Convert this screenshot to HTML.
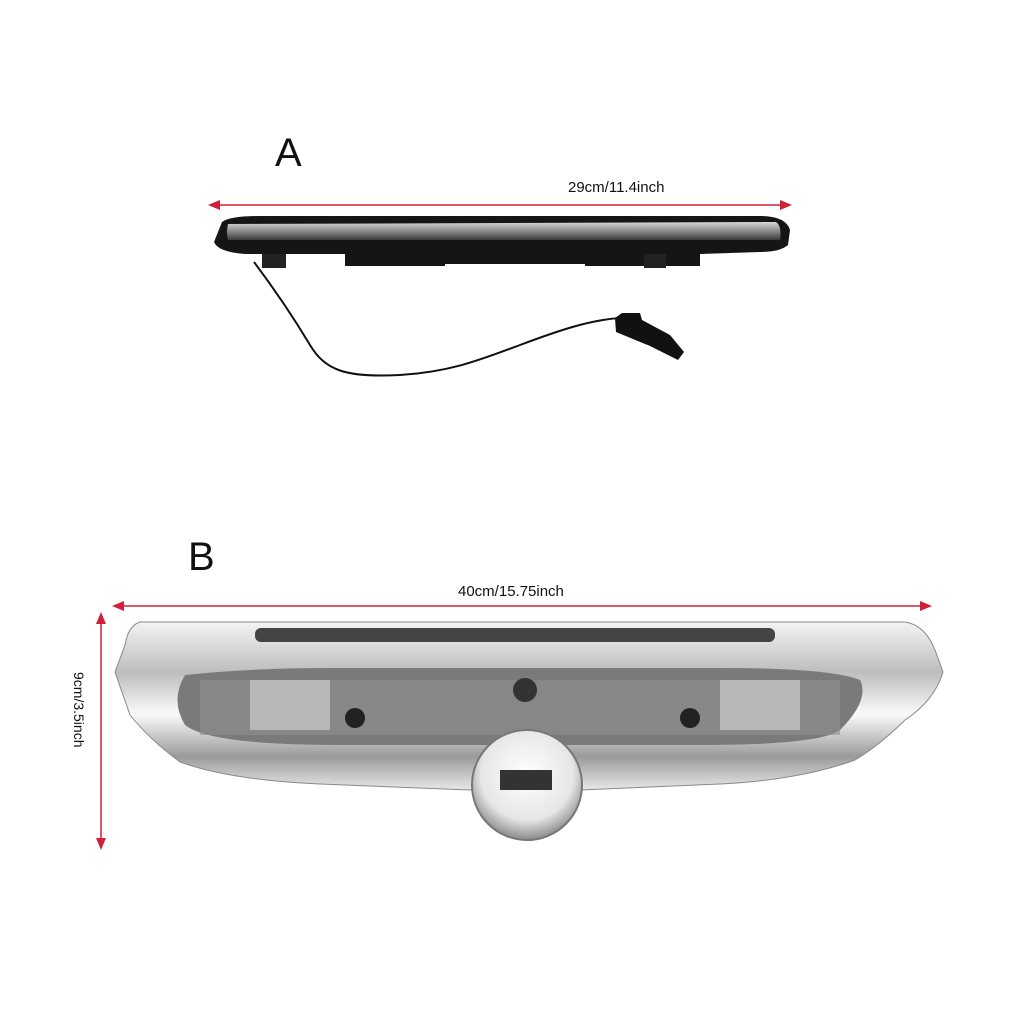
<!DOCTYPE html>
<html><head><meta charset="utf-8"><style>
html,body{margin:0;padding:0;background:#fff;}
svg{display:block;}
text{font-family:"Liberation Sans","DejaVu Sans",sans-serif;fill:#111;}
</style></head><body>
<svg width="1024" height="1024" viewBox="0 0 1024 1024">
<defs>
<linearGradient id="chrome" x1="0" y1="0" x2="0" y2="1">
<stop offset="0" stop-color="#f4f4f4"/><stop offset="0.3" stop-color="#bdbdbd"/>
<stop offset="0.55" stop-color="#fafafa"/><stop offset="0.8" stop-color="#9a9a9a"/><stop offset="1" stop-color="#e8e8e8"/>
</linearGradient>
<linearGradient id="lens" x1="0" y1="0" x2="0" y2="1">
<stop offset="0" stop-color="#d8d8d8"/><stop offset="0.5" stop-color="#8a8a8a"/><stop offset="1" stop-color="#3a3a3a"/>
</linearGradient>
<radialGradient id="boss" cx="0.5" cy="0.4" r="0.6">
<stop offset="0" stop-color="#ffffff"/><stop offset="0.7" stop-color="#e6e6e6"/><stop offset="1" stop-color="#8a8a8a"/>
</radialGradient>
</defs>

<text x="275" y="166" font-size="40">A</text>
<text x="568" y="192" font-size="15">29cm/11.4inch</text>
<line x1="216" y1="205" x2="784" y2="205" stroke="#d0203a" stroke-width="1.5"/>
<polygon points="208,205 220,200 220,210" fill="#d0203a"/>
<polygon points="792,205 780,200 780,210" fill="#d0203a"/>

<path d="M222,222 Q230,216 260,216 L760,216 Q786,216 790,230 L788,245 Q780,252 760,252 L700,254 L700,266 L585,266 L585,264 L445,264 L445,266 L345,266 L345,254 L245,254 Q218,252 214,242 Z" fill="#151515"/>
<path d="M228,224 L776,222 Q782,226 780,240 L228,240 Q226,232 228,224 Z" fill="url(#lens)"/>
<rect x="262" y="254" width="24" height="14" fill="#222"/>
<rect x="644" y="254" width="22" height="14" fill="#222"/>
<path d="M254,262 C275,290 295,320 310,345 C325,370 345,378 400,375 C450,372 480,360 520,345 C560,330 590,320 620,318" fill="none" stroke="#111" stroke-width="2"/>
<polygon points="615,318 622,313 640,313 642,320 670,335 684,352 678,360 650,346 616,332" fill="#111"/>

<text x="188" y="570" font-size="40">B</text>
<text x="458" y="596" font-size="15">40cm/15.75inch</text>
<line x1="120" y1="606" x2="924" y2="606" stroke="#d0203a" stroke-width="1.5"/>
<polygon points="112,606 124,601 124,611" fill="#d0203a"/>
<polygon points="932,606 920,601 920,611" fill="#d0203a"/>
<line x1="101" y1="620" x2="101" y2="842" stroke="#d0203a" stroke-width="1.5"/>
<polygon points="101,612 96,624 106,624" fill="#d0203a"/>
<polygon points="101,850 96,838 106,838" fill="#d0203a"/>
<text font-size="14" transform="translate(74,672) rotate(90)">9cm/3.5inch</text>

<path d="M140,622 L905,622 Q925,625 935,650 L943,672 Q935,700 905,720 Q880,745 855,760 Q800,780 720,784 L580,790 L470,790 L320,784 Q230,780 180,762 Q150,740 130,715 L115,672 L125,645 Q128,626 140,622 Z" fill="url(#chrome)" stroke="#888" stroke-width="1"/>
<rect x="255" y="628" width="520" height="14" rx="6" fill="#444"/>
<path d="M185,675 Q250,668 330,668 L720,668 Q830,668 860,680 Q870,700 840,730 Q820,745 700,745 L340,745 Q210,745 185,725 Q170,700 185,675 Z" fill="#7a7a7a"/>
<path d="M200,680 L840,680 L840,735 L200,735 Z" fill="#8f8f8f" opacity="0.6"/>
<rect x="250" y="680" width="80" height="50" fill="#b8b8b8"/>
<rect x="720" y="680" width="80" height="50" fill="#b8b8b8"/>
<circle cx="355" cy="718" r="10" fill="#222"/>
<circle cx="690" cy="718" r="10" fill="#222"/>
<circle cx="525" cy="690" r="12" fill="#333"/>
<circle cx="527" cy="785" r="55" fill="url(#boss)" stroke="#777" stroke-width="2"/>
<rect x="500" y="770" width="52" height="20" fill="#333"/>
</svg>
</body></html>
